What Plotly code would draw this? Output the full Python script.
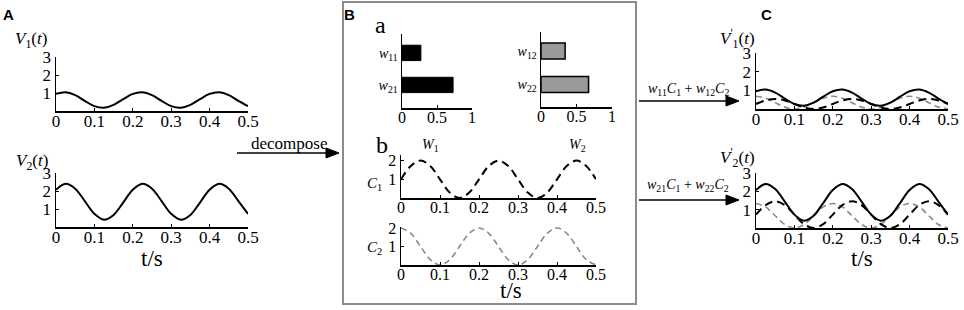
import plotly.graph_objects as go

# ---------------- data ----------------
t = [0.0, 0.025, 0.05, 0.075, 0.1, 0.125, 0.15, 0.175, 0.2, 0.225, 0.25,
     0.275, 0.3, 0.325, 0.35, 0.375, 0.4, 0.425, 0.45, 0.475, 0.5]

V1 = [0.95, 1.04, 0.88, 0.56, 0.27, 0.18, 0.34, 0.66, 0.95, 1.04, 0.88,
      0.56, 0.27, 0.18, 0.34, 0.66, 0.95, 1.04, 0.88, 0.56, 0.27]
V2 = [2.07, 2.40, 2.13, 1.44, 0.73, 0.40, 0.67, 1.36, 2.07, 2.40, 2.13,
      1.44, 0.73, 0.40, 0.67, 1.36, 2.07, 2.40, 2.13, 1.44, 0.73]

C1 = [1.00, 1.71, 2.00, 1.71, 1.00, 0.29, 0.00, 0.29, 1.00, 1.71, 2.00,
      1.71, 1.00, 0.29, 0.00, 0.29, 1.00, 1.71, 2.00, 1.71, 1.00]
C2 = [2.00, 1.71, 1.00, 0.29, 0.00, 0.29, 1.00, 1.71, 2.00, 1.71, 1.00,
      0.29, 0.00, 0.29, 1.00, 1.71, 2.00, 1.71, 1.00, 0.29, 0.00]

w11C1 = [0.27, 0.46, 0.54, 0.46, 0.27, 0.08, 0.00, 0.08, 0.27, 0.46, 0.54,
         0.46, 0.27, 0.08, 0.00, 0.08, 0.27, 0.46, 0.54, 0.46, 0.27]
w12C2 = [0.68, 0.58, 0.34, 0.10, 0.00, 0.10, 0.34, 0.58, 0.68, 0.58, 0.34,
         0.10, 0.00, 0.10, 0.34, 0.58, 0.68, 0.58, 0.34, 0.10, 0.00]
w21C1 = [0.73, 1.25, 1.46, 1.25, 0.73, 0.21, 0.00, 0.21, 0.73, 1.25, 1.46,
         1.25, 0.73, 0.21, 0.00, 0.21, 0.73, 1.25, 1.46, 1.25, 0.73]
w22C2 = [1.34, 1.15, 0.67, 0.19, 0.00, 0.19, 0.67, 1.15, 1.34, 1.15, 0.67,
         0.19, 0.00, 0.19, 0.67, 1.15, 1.34, 1.15, 0.67, 0.19, 0.00]

W1_labels = ["21", "11"]
W1_values = [0.73, 0.27]
W2_labels = ["22", "12"]
W2_values = [0.67, 0.34]

time_ticks = [0, 0.1, 0.2, 0.3, 0.4, 0.5]
time_ticktext = ["0", "0.1", "0.2", "0.3", "0.4", "0.5"]
v_ticks = [1, 2, 3]
c_ticks = [1, 2]
w_ticks = [0, 0.5, 1]
w_ticktext = ["0", "0.5", "1"]

# ---------------- layout helpers ----------------
W, H = 964, 310
SERIF = "Liberation Serif, Times New Roman, serif"
SANS = "Liberation Sans, Arial, sans-serif"


def xd(a, b):
    return [a / W, b / W]


def yd(top, bottom):
    return [1 - bottom / H, 1 - top / H]


def px(x):
    return x / W


def py(y):
    return 1 - y / H


def wlab(idx):
    return "<i>w</i><sub>%s</sub>" % idx


base_axis = dict(showline=True, linecolor="black", linewidth=1.5,
                 ticks="inside", ticklen=3, tickwidth=1, tickcolor="black",
                 showgrid=False, zeroline=False, fixedrange=True,
                 tickfont=dict(family=SERIF, size=17, color="black"))


def xaxis(dom, anchor, rng, vals, text, size=17):
    d = dict(base_axis)
    d.update(domain=xd(*dom), anchor=anchor, range=rng, tickmode="array",
             tickvals=vals, ticktext=text, ticklabelstandoff=-6,
             tickfont=dict(family=SERIF, size=size, color="black"))
    return d


def yaxis(dom, anchor, rng, vals, size=17):
    d = dict(base_axis)
    d.update(domain=yd(*dom), anchor=anchor, range=rng, tickmode="array",
             tickvals=vals, ticktext=[str(v) for v in vals],
             tickfont=dict(family=SERIF, size=size, color="black"))
    return d


fig = go.Figure()

solid = dict(color="black", width=2, shape="spline")
kdash = dict(color="black", width=2, dash="8px,5px", shape="spline")
gdash = dict(color="#8a8a8a", width=1.6, dash="6px,4px", shape="spline")

# Panel A
fig.add_trace(go.Scatter(x=t, y=V1, mode="lines", line=solid, xaxis="x", yaxis="y"))
fig.add_trace(go.Scatter(x=t, y=V2, mode="lines", line=solid, xaxis="x2", yaxis="y2"))

# Panel B (a): bars
fig.add_trace(go.Bar(x=W1_values, y=[wlab(l) for l in W1_labels], orientation="h",
                     width=0.48, marker=dict(color="black", line=dict(color="black", width=1)),
                     xaxis="x3", yaxis="y3"))
fig.add_trace(go.Bar(x=W2_values, y=[wlab(l) for l in W2_labels], orientation="h",
                     width=0.48, marker=dict(color="#9a9a9a", line=dict(color="black", width=1.5)),
                     xaxis="x4", yaxis="y4"))

# Panel B (b): components
fig.add_trace(go.Scatter(x=t, y=C1, mode="lines", line=kdash, xaxis="x5", yaxis="y5"))
fig.add_trace(go.Scatter(x=t, y=C2, mode="lines", line=gdash, xaxis="x6", yaxis="y6"))

# Panel C
fig.add_trace(go.Scatter(x=t, y=w12C2, mode="lines", line=gdash, xaxis="x7", yaxis="y7"))
fig.add_trace(go.Scatter(x=t, y=w11C1, mode="lines", line=kdash, xaxis="x7", yaxis="y7"))
fig.add_trace(go.Scatter(x=t, y=V1, mode="lines", line=solid, xaxis="x7", yaxis="y7"))
fig.add_trace(go.Scatter(x=t, y=w22C2, mode="lines", line=gdash, xaxis="x8", yaxis="y8"))
fig.add_trace(go.Scatter(x=t, y=w21C1, mode="lines", line=kdash, xaxis="x8", yaxis="y8"))
fig.add_trace(go.Scatter(x=t, y=V2, mode="lines", line=solid, xaxis="x8", yaxis="y8"))

layout = dict(
    width=W, height=H, margin=dict(l=0, r=0, t=0, b=0, autoexpand=False),
    paper_bgcolor="white", plot_bgcolor="white", showlegend=False,
    bargap=0,
    xaxis=xaxis((56, 248), "y", [0, 0.5], time_ticks, time_ticktext),
    yaxis=yaxis((57, 111), "x", [0, 3], v_ticks),
    xaxis2=xaxis((56, 248), "y2", [0, 0.5], time_ticks, time_ticktext),
    yaxis2=yaxis((173, 227), "x2", [0, 3], v_ticks),
    xaxis3=xaxis((402, 472), "y3", [0, 1], w_ticks, w_ticktext, 16),
    xaxis4=xaxis((541, 612), "y4", [0, 1], w_ticks, w_ticktext, 16),
    xaxis5=xaxis((401, 596), "y5", [0, 0.5], time_ticks, time_ticktext, 16),
    yaxis5=yaxis((155, 198), "x5", [0, 2.3], c_ticks, 16),
    xaxis6=xaxis((401, 596), "y6", [0, 0.5], time_ticks, time_ticktext, 16),
    yaxis6=yaxis((227, 265), "x6", [0, 2.05], c_ticks, 16),
    xaxis7=xaxis((756, 948), "y7", [0, 0.5], time_ticks, time_ticktext),
    yaxis7=yaxis((53, 109), "x7", [0, 3], v_ticks),
    xaxis8=xaxis((756, 948), "y8", [0, 0.5], time_ticks, time_ticktext),
    yaxis8=yaxis((173, 228), "x8", [0, 3], v_ticks),
)
for name, anchor, dom, rng in (("yaxis3", "x3", (34, 108), [-0.72, 1.59]),
                               ("yaxis4", "x4", (32, 107), [-0.67, 1.57])):
    d = dict(base_axis)
    d.update(domain=yd(*dom), anchor=anchor, type="category", range=rng, ticks="",
             tickfont=dict(family=SERIF, size=14, color="black"))
    layout[name] = d

fig.update_layout(**layout)

# ---------------- text ----------------
def note(x, y, text, size=17, family=SERIF, **kw):
    fig.add_annotation(x=px(x), y=py(y), xref="paper", yref="paper", text=text,
                       showarrow=False, xanchor="center", yanchor="middle",
                       font=dict(family=family, size=size, color="black"), **kw)


note(8, 14, "<b>A</b>", 15, SANS)
note(349, 15, "<b>B</b>", 15, SANS)
note(766, 14, "<b>C</b>", 15, SANS)
note(31, 40, "<i>V</i><sub>1</sub>(<i>t</i>)")
note(32, 162, "<i>V</i><sub>2</sub>(<i>t</i>)")
note(152, 258, "t/s", 23)
note(289, 143, "decompose", 17)
note(380, 25, "a", 24)
note(382, 145, "b", 24)
note(430, 145, "<i>W</i><sub>1</sub>", 14)
note(577, 145, "<i>W</i><sub>2</sub>", 14)
note(374, 184, "<i>C</i><sub>1</sub>", 15)
note(374, 248, "<i>C</i><sub>2</sub>", 15)
note(511, 290, "t/s", 23)
note(688, 90, "<i>w</i><sub>11</sub><i>C</i><sub>1</sub> + <i>w</i><sub>12</sub><i>C</i><sub>2</sub>", 14)
note(688, 185, "<i>w</i><sub>21</sub><i>C</i><sub>1</sub> + <i>w</i><sub>22</sub><i>C</i><sub>2</sub>", 14)
note(737, 39, "<i>V</i><sup>'</sup><sub>1</sub>(<i>t</i>)")
note(737, 157, "<i>V</i><sup>'</sup><sub>2</sub>(<i>t</i>)")
note(862, 258, "t/s", 23)

# ---------------- box and arrows ----------------
shapes = [dict(type="rect", xref="paper", yref="paper", x0=px(343), x1=px(636),
               y0=py(304), y1=py(2), line=dict(color="#8c8c8c", width=2))]


def arrow(x0, x1, y):
    shapes.append(dict(type="line", xref="paper", yref="paper", x0=px(x0), x1=px(x1 - 10),
                       y0=py(y), y1=py(y), line=dict(color="black", width=1.5)))
    path = "M %f,%f L %f,%f L %f,%f Z" % (px(x1 - 13), py(y - 5), px(x1), py(y),
                                          px(x1 - 13), py(y + 5))
    shapes.append(dict(type="path", xref="paper", yref="paper", path=path,
                       fillcolor="black", line=dict(color="black", width=1)))


arrow(237, 339, 153)
arrow(639, 739, 101)
arrow(639, 739, 200)
fig.update_layout(shapes=shapes)

fig.write_html("out.html",
               config={"displayModeBar": False, "staticPlot": True},
               post_script="document.body.style.margin='0px';"
                           "document.body.style.overflow='hidden';")
